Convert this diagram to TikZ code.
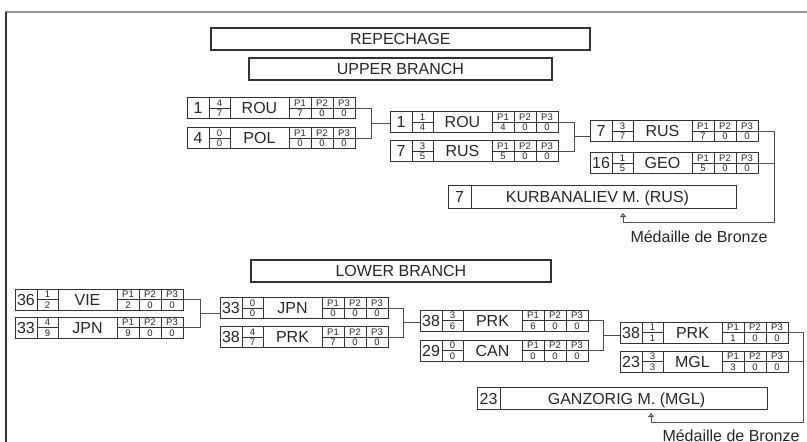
\documentclass[tikz,border=0pt]{standalone}
\usepackage{fontspec}
\setmainfont{Liberation Sans}
\usetikzlibrary{arrows.meta,calc}
\definecolor{ink}{HTML}{262626}
\definecolor{boxc}{HTML}{333333}
\definecolor{conc}{HTML}{4D4D4D}
\tikzset{
  boxline/.style={draw=boxc,line width=1pt},
  bigtxt/.style={inner sep=0pt,text=ink,font=\fontsize{16}{16}\selectfont,text height=11.5pt,text depth=0pt},
  smalltxt/.style={inner sep=0pt,text=ink,font=\fontsize{9.5}{9.5}\selectfont,text height=6.8pt,text depth=0pt},
  conn/.style={draw=conc,line width=1pt},
  headbox/.style={draw=boxc,line width=1.8pt,inner sep=0pt,text=ink,anchor=north west,
    font=\fontsize{16}{16}\selectfont,text height=11.5pt,text depth=0pt},
  namebox/.style={draw=boxc,line width=1pt,inner sep=0pt,anchor=north west},
  pics/entry/.style n args={7}{code={
    \draw[boxline] (0,0) rectangle (168,21);
    \draw[boxline] (22,0) -- (22,21) (43,0) -- (43,21) (102,0) -- (102,21)
                   (124,0) -- (124,21) (146,0) -- (146,21);
    \draw[boxline] (22,10.5) -- (43,10.5) (102,10.5) -- (168,10.5);
    \node[bigtxt] (seed) at (11,10.5) {#1};
    \node[smalltxt] (fa) at (32.5,5.3) {#2};
    \node[smalltxt] (fb) at (32.5,15.9) {#3};
    \node[bigtxt] (cty) at (72.5,10.5) {#4};
    \node[smalltxt] (ha) at (113,5.3) {P1};
    \node[smalltxt] (hb) at (135,5.3) {P2};
    \node[smalltxt] (hc) at (157,5.3) {P3};
    \node[smalltxt] (va) at (113,15.9) {#5};
    \node[smalltxt] (vb) at (135,15.9) {#6};
    \node[smalltxt] (vc) at (157,15.9) {#7};
    \coordinate (w) at (0,10.5);
    \coordinate (e) at (168,10.5);
  }}
}
\begin{document}
\begin{tikzpicture}[x=1pt,y=-1pt]
\useasboundingbox (0,0) rectangle (807,442);
% frame
\draw[draw=gray!85,line width=1.6pt] (5,12) -- (807,12);
\draw[draw=boxc,line width=1.4pt] (6,12) -- (6,442);
% headings
\node[headbox,minimum width=379pt,minimum height=22pt] (rep) at (210,27) {REPECHAGE};
\node[headbox,minimum width=303pt,minimum height=22pt] (upb) at (248,57) {UPPER BRANCH};
\node[headbox,minimum width=300pt,minimum height=22pt] (lob) at (250,259) {LOWER BRANCH};
% upper branch
\pic (u1a) at (187,97.5) {entry={1}{4}{7}{ROU}{7}{0}{0}};
\pic (u1b) at (187,127.5) {entry={4}{0}{0}{POL}{0}{0}{0}};
\pic (u2a) at (390,111.5) {entry={1}{1}{4}{ROU}{4}{0}{0}};
\pic (u2b) at (390,140.5) {entry={7}{3}{5}{RUS}{5}{0}{0}};
\pic (u3a) at (590,120.5) {entry={7}{3}{7}{RUS}{7}{0}{0}};
\pic (u3b) at (590,152.5) {entry={16}{1}{5}{GEO}{5}{0}{0}};
% lower branch
\pic (l1a) at (15,289) {entry={36}{1}{2}{VIE}{2}{0}{0}};
\pic (l1b) at (15,317) {entry={33}{4}{9}{JPN}{9}{0}{0}};
\pic (l2a) at (220,297.5) {entry={33}{0}{0}{JPN}{0}{0}{0}};
\pic (l2b) at (220,326.5) {entry={38}{4}{7}{PRK}{7}{0}{0}};
\pic (l3a) at (420,310) {entry={38}{3}{6}{PRK}{6}{0}{0}};
\pic (l3b) at (420,340) {entry={29}{0}{0}{CAN}{0}{0}{0}};
\pic (l4a) at (620,322) {entry={38}{1}{1}{PRK}{1}{0}{0}};
\pic (l4b) at (620,351) {entry={23}{3}{3}{MGL}{3}{0}{0}};
% final boxes
\node[namebox,minimum width=288pt,minimum height=23pt] (kbox) at (448,185) {};
\draw[boxline] ([xshift=23pt]kbox.north west) -- ([xshift=23pt]kbox.south west);
\node[bigtxt] (kseed) at ($(kbox.west)+(11.5,0)$) {7};
\node[bigtxt] (kname) at ($(kbox.center)+(5,0)$) {KURBANALIEV M. (RUS)};
\node[namebox,minimum width=290pt,minimum height=22pt] (gbox) at (477,387) {};
\draw[boxline] ([xshift=23pt]gbox.north west) -- ([xshift=23pt]gbox.south west);
\node[bigtxt] (gseed) at ($(gbox.west)+(11.5,0)$) {23};
\node[bigtxt] (gname) at ($(gbox.center)+(4,0)$) {GANZORIG M. (MGL)};
% connectors upper
\draw[conn] (u1ae) -- ++(16,0) |- (u1be);
\coordinate (j1) at ($(u1ae)!0.5!(u1be)+(16,0)$);
\draw[conn] (j1) -- (j1 -| u2aw);
\draw[conn] (u2ae) -- ++(16,0) |- (u2be);
\coordinate (j2) at ($(u2ae)!0.5!(u2be)+(16,0)$);
\draw[conn] (j2) -- (j2 -| u3aw);
\coordinate (bz1) at (623,222);
\draw[conn] (u3ae) -- ++(16,0) |- (bz1);
\draw[conn] (u3be) -- ++(16,0);
\draw[conn,-{Triangle[open,length=4pt,width=6pt]}] (bz1) -- ++(0,-9);
\node[bigtxt,anchor=base] (med1) at (699,242) {Médaille de Bronze};
% connectors lower
\draw[conn] (l1ae) -- ++(17,0) |- (l1be);
\coordinate (k1) at ($(l1ae)!0.5!(l1be)+(17,0)$);
\draw[conn] (k1) -- (k1 -| l2aw);
\draw[conn] (l2ae) -- ++(15,0) |- (l2be);
\coordinate (k2) at ($(l2ae)!0.5!(l2be)+(15,0)$);
\draw[conn] (k2) -- (k2 -| l3aw);
\draw[conn] (l3ae) -- ++(15,0) |- (l3be);
\coordinate (k3) at ($(l3ae)!0.5!(l3be)+(15,0)$);
\draw[conn] (k3) -- (k3 -| l4aw);
\coordinate (bz2) at (651,422);
\draw[conn] (l4ae) -- ++(15,0) |- (bz2);
\draw[conn] (l4be) -- ++(15,0);
\draw[conn,-{Triangle[open,length=4pt,width=6pt]}] (bz2) -- ++(0,-9);
\node[bigtxt,anchor=base] (med2) at (731,441) {Médaille de Bronze};
\end{tikzpicture}
\end{document}
